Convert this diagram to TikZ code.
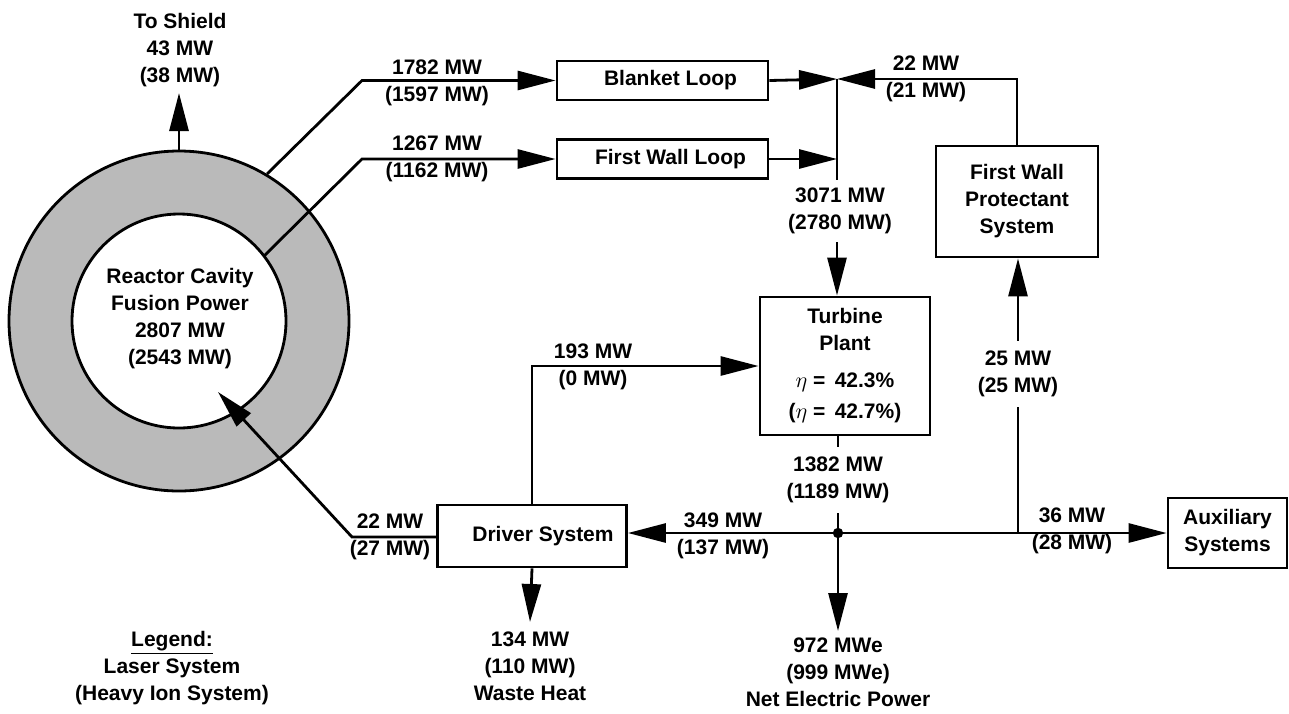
\documentclass[tikz,border=0pt]{standalone}
\usepackage{fontspec}
\setmainfont{Liberation Sans}
\usetikzlibrary{arrows.meta}
\begin{document}
\begin{tikzpicture}[x=0.5pt,y=-0.5pt,
  lbl/.style={font=\bfseries\fontsize{10.5}{13.5}\selectfont, align=center, inner sep=2pt},
  box/.style={draw, line width=1.4pt, lbl},
  flow/.style={line width=1.4pt},
  arr/.style={flow, -{Triangle[length=19pt,width=9.5pt]}}]
\useasboundingbox (0,0) rectangle (1289,713);

% reactor ring
\coordinate (cav) at (179,321);
\fill[black!27, even odd rule] (cav) circle[radius=85pt] (cav) circle[radius=53.5pt];
\draw[line width=1.4pt] (cav) circle[radius=85pt];
\draw[line width=1.4pt] (cav) circle[radius=53.5pt];
\node[lbl] (cavtxt) at (180,319) {Reactor Cavity\\Fusion Power\\2807 MW\\(2543 MW)};

% boxes
\node[box, minimum width=105.5pt, minimum height=19.5pt] (blanket) at (662.5,80.5) {\hspace*{8pt}Blanket Loop};
\node[box, minimum width=105.5pt, minimum height=19.5pt] (fwl) at (662.5,159) {\hspace*{8pt}First Wall Loop};
\node[box, minimum width=85pt, minimum height=69pt] (turbine) at (845,366) {Turbine\\Plant\\[5pt]$\eta$ = \,42.3\%\\[2pt]($\eta$ = \,42.7\%)};
\node[box, minimum width=81pt, minimum height=55.5pt] (fwp) at (1017,201.5) {First Wall\\Protectant\\System};
\node[box, minimum width=59.5pt, minimum height=35pt] (aux) at (1227.5,533) {Auxiliary\\Systems};
\node[box, minimum width=94.5pt, minimum height=31pt] (driver) at (532,536) {\hspace*{11pt}Driver System};

% labels
\node[lbl] (lshield) at (180,50) {To Shield\\43 MW\\(38 MW)};
\node[lbl] (l1782) at (437,83) {1782 MW\\(1597 MW)};
\node[lbl] (l1267) at (437,159) {1267 MW\\(1162 MW)};
\node[lbl] (l22t) at (926,79) {22 MW\\(21 MW)};
\node[lbl, inner sep=4pt] (l3071) at (840,211) {3071 MW\\(2780 MW)};
\node[lbl] (l193) at (593,367) {193 MW\\(0 MW)};
\node[lbl, inner sep=5pt] (l25) at (1018,374) {25 MW\\(25 MW)};
\node[lbl] (l36) at (1072,531) {36 MW\\(28 MW)};
\node[lbl, inner sep=5pt] (l1382) at (838,480) {1382 MW\\(1189 MW)};
\node[lbl] (l349) at (723,536) {349 MW\\(137 MW)};
\node[lbl] (l22b) at (390,537) {22 MW\\(27 MW)};
\node[lbl] (l134) at (530,666) {134 MW\\(110 MW)\\Waste Heat};
\node[lbl] (l972) at (838,672) {972 MWe\\(999 MWe)\\Net Electric Power};
\node[lbl] (legend) at (172,668) {\underline{Legend:}\\Laser System\\(Heavy Ion System)};

% coordinates
\coordinate (shtop) at (179,151);
\coordinate (shtip) at (179,93);
\coordinate (o1) at (267,174);
\coordinate (b1) at (362,80.5);
\coordinate (i1) at (264,256);
\coordinate (b2) at (362,159);
\coordinate (jtop) at (837,79);
\coordinate (jmid) at (837,159);
\coordinate (junc) at (838,533);
\coordinate (br) at (1018,533);
\coordinate (dbend) at (352,537);
\coordinate (lasertip) at (218,392);
\coordinate (nettip) at (838,631);
\coordinate (wastetip) at (530,622);

% connectors
\draw[arr] (shtop) -- (shtip);
\draw[arr] (o1) -- (b1) -- (blanket.west);
\draw[arr] (i1) -- (b2) -- (fwl.west);
\draw[arr] (blanket.east) -- (jtop);
\draw[arr] (fwl.east) -- (jmid);
\draw[arr] (fwp.north) |- (jtop);
\draw[flow] (jtop) -- (l3071.north -| jtop);
\draw[arr] (l3071.south -| jtop) -- (jtop |- turbine.north);
\draw[arr] (driver.north) |- (turbine.west);
\draw[flow] (junc |- turbine.south) -- (l1382.north -| junc);
\draw[flow] (l1382.south -| junc) -- (junc);
\draw[arr] (junc) -- (junc -| driver.east);
\draw[arr] (junc) -- (aux.west);
\draw[arr] (junc) -- (nettip);
\draw[flow] (br) -- (l25.south -| br);
\draw[arr] (l25.north -| br) -- (br |- fwp.south);
\draw[arr] (driver.west |- dbend) -- (dbend) -- (lasertip);
\draw[arr] (driver.south) -- (wastetip);
\fill (junc) circle[radius=2.6pt];
\end{tikzpicture}
\end{document}
